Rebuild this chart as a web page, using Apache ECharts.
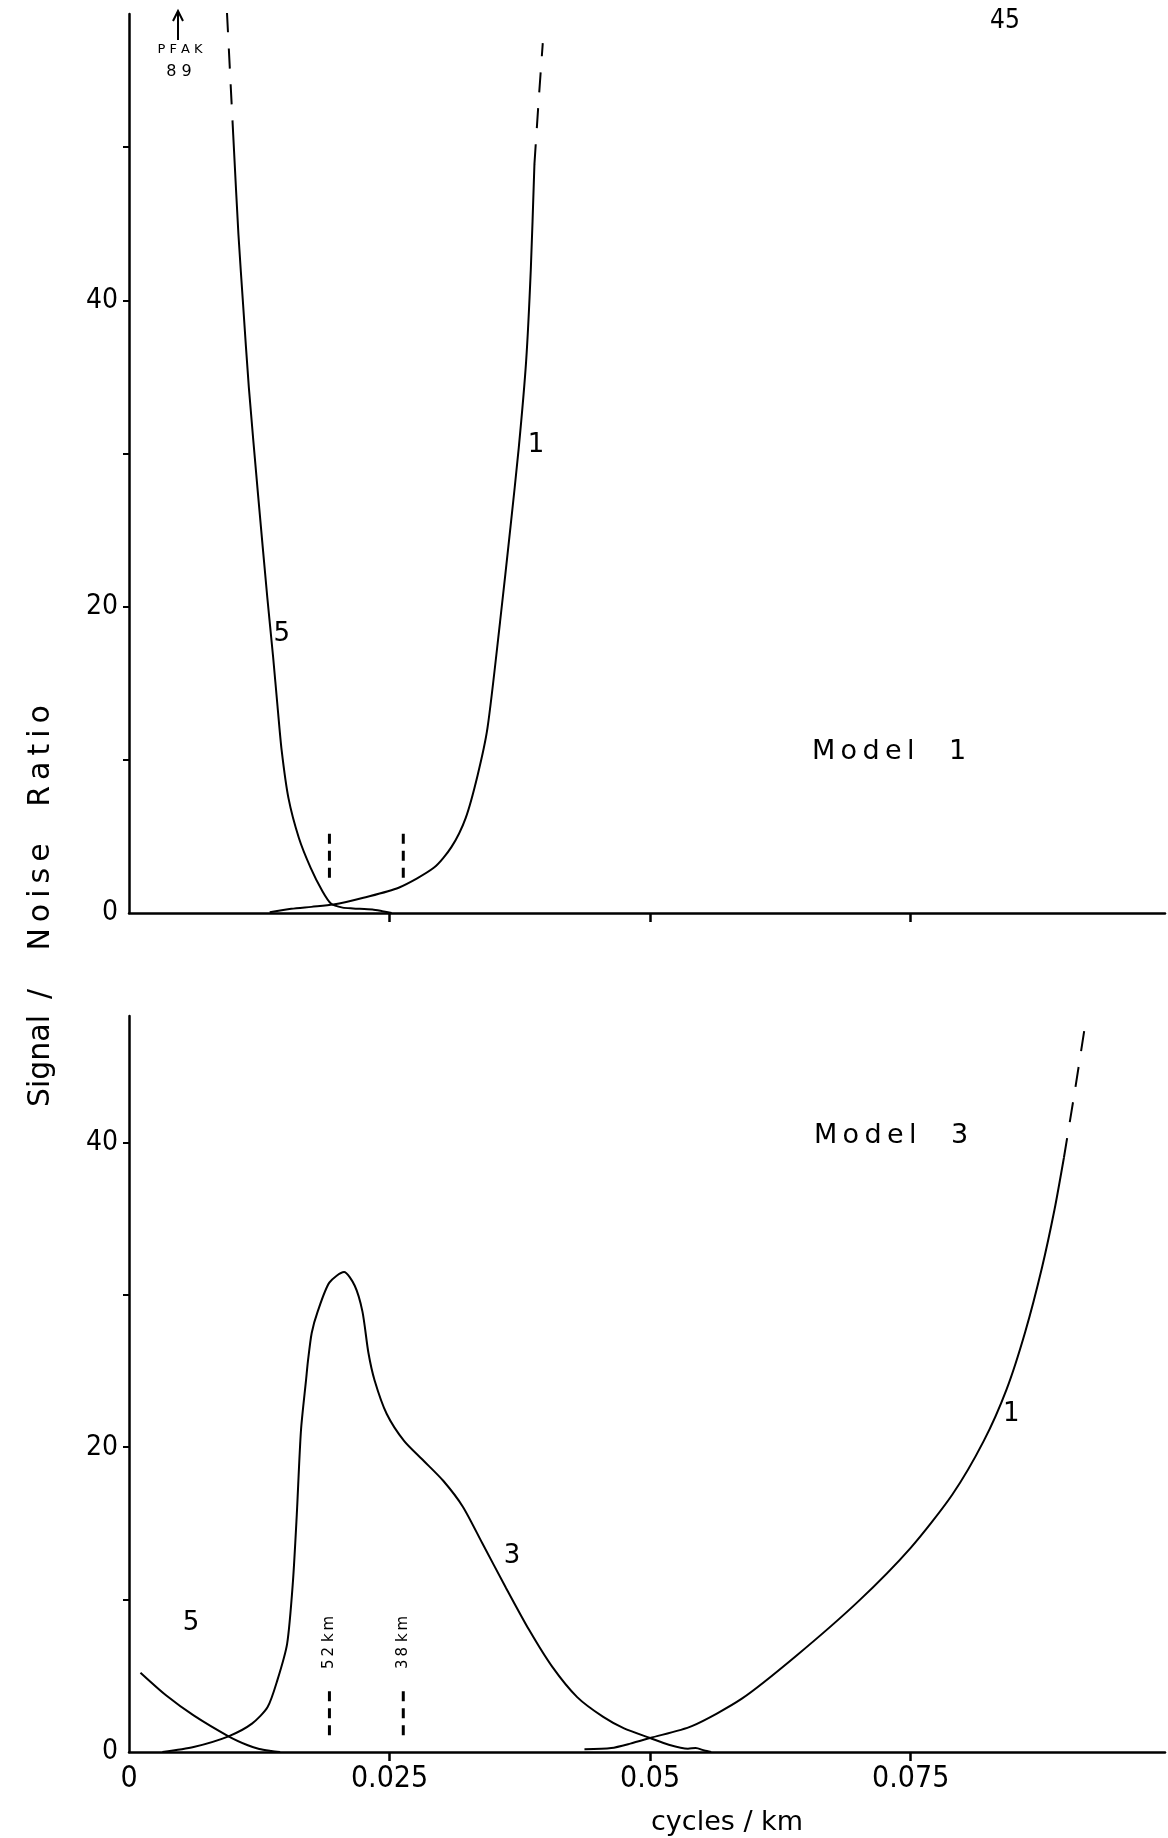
<!DOCTYPE html>
<html><head><meta charset="utf-8">
<style>html,body{margin:0;padding:0;background:#fff;}#c{width:1168px;height:1838px;}</style>
<script src="https://cdn.jsdelivr.net/npm/echarts@6/dist/echarts.min.js"></script>
</head><body><div id="c"></div>
<script>
// ---------- data ----------
const xTickValues = [0.025, 0.05, 0.075];
const xLabelValues = [0, 0.025, 0.05, 0.075];
const yTickValues = [10, 20, 30, 40, 50];
const yLabelValues = [0, 20, 40];
const markerKm = [52, 38];

// Model 1
const m1Curve5Dash = [[0.0094, 58.8], [0.0097, 54.8], [0.0100, 50.8]];
const m1Curve5 = [[0.0100, 50.8], [0.0105, 44.3], [0.01095, 39.7], [0.0115, 34.3], [0.01237, 27.4], [0.01327, 20.6], [0.01383, 16.7], [0.01425, 13.5], [0.01465, 10.6], [0.0153, 7.5], [0.0163, 4.9], [0.01743, 2.95], [0.01856, 1.42], [0.0194, 0.6], [0.0205, 0.35], [0.0215, 0.3], [0.02336, 0.23], [0.0243, 0.12], [0.0252, 0.0]];
const m1Curve1 = [[0.0135, 0.05], [0.01557, 0.27], [0.0175, 0.4], [0.0196, 0.55], [0.02249, 1.0], [0.02587, 1.65], [0.02924, 2.95], [0.03093, 4.3], [0.0323, 6.2], [0.03345, 9.0], [0.0344, 12.1], [0.0356, 19.0], [0.0366, 25.2], [0.0374, 30.4], [0.0381, 36.0], [0.03855, 42.0], [0.0389, 48.9]];
const m1Curve1Dash = [[0.0389, 48.9], [0.0393, 53.0], [0.0397, 56.8]];
const m1MarkerRange = [2.3, 5.5];

// Model 3
const m3Curve5 = [[0.0011, 5.2], [0.00355, 3.72], [0.0062, 2.4], [0.00955, 1.03], [0.0114, 0.44], [0.0125, 0.2], [0.01367, 0.07], [0.0145, 0]];
const m3Curve3 = [[0.0032, 0], [0.0062, 0.33], [0.00955, 1.03], [0.0118, 1.86], [0.0133, 2.95], [0.01423, 4.7], [0.01517, 7.1], [0.01573, 11.2], [0.0161, 15.6], [0.0165, 21.1], [0.017, 24.5], [0.01716, 25.6], [0.01753, 27.5], [0.0181, 28.9], [0.01922, 30.8], [0.02063, 31.5], [0.02166, 30.6], [0.0224, 28.9], [0.02297, 26.2], [0.02356, 24.4], [0.02472, 22.2], [0.02641, 20.4], [0.02829, 19.1], [0.03015, 17.8], [0.03203, 16.1], [0.0339, 13.7], [0.03615, 10.8], [0.0384, 8.0], [0.0406, 5.6], [0.043, 3.6], [0.0455, 2.3], [0.0475, 1.55], [0.05, 0.92], [0.05179, 0.48], [0.05363, 0.22], [0.05437, 0.26], [0.0552, 0.1], [0.05586, 0]];
const m3Curve1 = [[0.0437, 0.18], [0.04627, 0.26], [0.0481, 0.55], [0.05, 0.92], [0.054, 1.7], [0.0588, 3.5], [0.064, 6.3], [0.070, 9.9], [0.075, 13.4], [0.079, 16.9], [0.082, 20.4], [0.0842, 23.8], [0.086, 27.6], [0.0876, 31.8], [0.0888, 35.6], [0.0897, 39.0]];
const m3Curve1Dash = [[0.0897, 39.0], [0.0908, 43.6], [0.0918, 48.0]];
const m3MarkerRange = [1.1, 4.45];
const m3MarkerTextY = 6.9;

// curve labels [panel, x, y, text]
const curveLabels = [[0, 0.0147, 18.2, '5'], [0, 0.0391, 30.5, '1'], [1, 0.006, 8.4, '5'], [1, 0.0368, 12.8, '3'], [1, 0.0847, 22.1, '1']];

// ---------- chart ----------
const INK = '#000';
const FONT = '"DejaVu Sans", "Open Sans", sans-serif';
const COND = '"DejaVu Sans Condensed", "Liberation Sans Narrow", "DejaVu Sans", sans-serif';
const TS = '\u2009';
const chart = echarts.init(document.getElementById('c'), null, {renderer: 'canvas'});

function xAxis(grid, labels) {
  return {
    type: 'value', gridIndex: grid, min: 0, max: 0.0994,
    axisLine: {show: true, onZero: false, lineStyle: {color: INK, width: 2.5}},
    axisTick: {show: true, inside: false, length: 9, customValues: xTickValues, lineStyle: {color: INK, width: 2.5}},
    axisLabel: {show: labels, customValues: xLabelValues, margin: 12, color: INK, fontSize: 30, fontFamily: COND,
      formatter: v => v === 0 ? '0' : String(+v.toFixed(3))},
    splitLine: {show: false}
  };
}
function yAxis(grid, max) {
  return {
    type: 'value', gridIndex: grid, min: 0, max: max,
    axisLine: {show: true, onZero: false, lineStyle: {color: INK, width: 2.5}},
    axisTick: {show: true, inside: false, length: 6, customValues: yTickValues.filter(v => v < max), lineStyle: {color: INK, width: 2}},
    axisLabel: {show: true, customValues: yLabelValues, margin: 11, color: INK, fontSize: 28, fontFamily: COND},
    splitLine: {show: false}
  };
}
function curve(grid, data, dashed) {
  return {
    type: 'line', xAxisIndex: grid, yAxisIndex: grid, data: data, showSymbol: false, smooth: 0.25,
    lineStyle: {color: INK, width: 2, type: dashed ? [20, 16] : 'solid'}, silent: true, z: 3
  };
}
function markers(grid, range) {
  return markerKm.map(km => ({
    type: 'line', xAxisIndex: grid, yAxisIndex: grid, showSymbol: false,
    data: [[1 / km, range[0]], [1 / km, range[1]]],
    lineStyle: {color: INK, width: 3, type: [10, 7]}, silent: true
  }));
}
function textSeries(grid, data, fontSize, rotate, offset) {
  return {
    type: 'scatter', xAxisIndex: grid, yAxisIndex: grid, symbolSize: 1, itemStyle: {color: 'rgba(0,0,0,0)'}, silent: true,
    data: data,
    label: {show: true, position: [0, 0], align: 'center', verticalAlign: 'middle', rotate: rotate, offset: offset,
      formatter: '{b}', color: INK, opacity: 1, fontSize: fontSize, fontFamily: FONT}
  };
}

const series = [
  curve(0, m1Curve5Dash, true), curve(0, m1Curve5, false),
  curve(0, m1Curve1, false), curve(0, m1Curve1Dash, true),
  ...markers(0, m1MarkerRange),
  curve(1, m3Curve5, false), curve(1, m3Curve3, false),
  curve(1, m3Curve1, false), curve(1, m3Curve1Dash, true),
  ...markers(1, m3MarkerRange),
  textSeries(1, markerKm.map(km => ({value: [1 / km, m3MarkerTextY], name: String(km).split('').join(TS) + ' k' + TS + 'm'})), 15, 90, [4, 0]),
  ...[0, 1].map(g => textSeries(g, curveLabels.filter(l => l[0] === g).map(l => ({value: [l[1], l[2]], name: l[3]})), 26, 0, [0, 0]))
];

function txt(x, y, text, size, opts) {
  return {type: 'text', x: x, y: y, style: Object.assign({text: text, fill: INK, fontSize: size, fontFamily: FONT, align: 'center', verticalAlign: 'middle'}, opts || {})};
}
function vtxt(x, y, text, size) {
  return {type: 'text', x: x, y: y, rotation: Math.PI / 2, style: {text: text, fill: INK, fontSize: size, fontFamily: FONT, align: 'center', verticalAlign: 'middle'}};
}
const spaced = s => s.split('').join(TS);

chart.setOption({
  animation: false,
  backgroundColor: '#fff',
  grid: [
    {left: 129, top: 14, right: 3, height: 899},
    {left: 129, top: 1016, right: 3, height: 736}
  ],
  xAxis: [xAxis(0, false), xAxis(1, true)],
  yAxis: [yAxis(0, 58.7), yAxis(1, 48.3)],
  series: series,
  graphic: [
    txt(1005, 21, '45', 26, {fontFamily: COND}),
    {type: 'line', shape: {x1: 178, y1: 40, x2: 178, y2: 13}, style: {stroke: INK, lineWidth: 2}},
    {type: 'polyline', shape: {points: [[173, 21], [178, 11], [183, 21]]}, style: {stroke: INK, lineWidth: 2, fill: null}},
    txt(180, 50, 'P F A K', 13),
    txt(179, 72, '8 9', 16),
    txt(889, 752, spaced('Model') + '\u00a0\u00a0\u00a0\u00a01', 27),
    txt(891, 1136, spaced('Model') + '\u00a0\u00a0\u00a0\u00a03', 27),
    txt(727, 1823, 'cycles / km', 27),
    vtxt(41, 1061, 'Signal', 30),
    vtxt(41, 994, '/', 30),
    vtxt(41, 897, spaced('Noise'), 30),
    vtxt(41, 756, spaced('Ratio'), 30)
  ]
});
</script></body></html>
